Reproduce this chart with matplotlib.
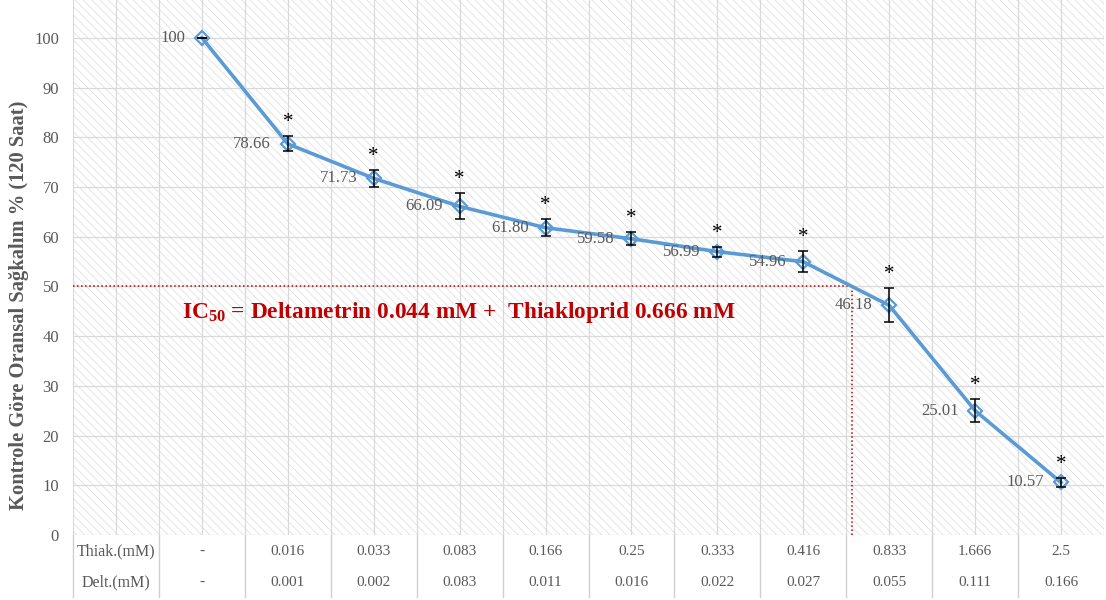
import matplotlib
matplotlib.use("Agg")
import matplotlib.pyplot as plt
import matplotlib.transforms as mtransforms
from matplotlib.patches import Rectangle
import numpy as np

plt.rcParams['font.family'] = ['Liberation Serif', 'DejaVu Serif']
plt.rcParams['hatch.linewidth'] = 0.5
plt.rcParams['mathtext.fontset'] = 'custom'
plt.rcParams['mathtext.rm'] = 'Liberation Serif'
plt.rcParams['mathtext.bf'] = 'Liberation Serif:bold'
plt.rcParams['mathtext.it'] = 'Liberation Serif:italic'

# ---------------- data ----------------
thiak = ['-', '0.016', '0.033', '0.083', '0.166', '0.25', '0.333', '0.416', '0.833', '1.666', '2.5']
delt = ['-', '0.001', '0.002', '0.083', '0.011', '0.016', '0.022', '0.027', '0.055', '0.111', '0.166']
survival = [100, 78.66, 71.73, 66.09, 61.80, 59.58, 56.99, 54.96, 46.18, 25.01, 10.57]
value_labels = ['100', '78.66', '71.73', '66.09', '61.80', '59.58', '56.99', '54.96', '46.18', '25.01', '10.57']
errors = [0, 1.5, 1.7, 2.6, 1.7, 1.35, 1.0, 2.1, 3.4, 2.25, 0.9]
significant = [False, True, True, True, True, True, True, True, True, True, True]
row_labels = ['Thiak.(mM)', 'Delt.(mM)']
ylabel = 'Kontrole Göre Oransal Sağkalım % (120 Saat)'
ic50_level = 50

gray = '#595959'
blue = '#5B9BD5'
red = '#C00000'

fig = plt.figure(figsize=(11.06, 6.0), dpi=100)
ax = fig.add_axes([73 / 1106, 65 / 600, (1104 - 73) / 1106, 535 / 600])

x = np.arange(1, len(survival) + 1)

# hatched background
bg = Rectangle((0, 0), 1, 1, transform=ax.transAxes, facecolor='white',
               edgecolor='#dcdcdc', hatch='\\\\\\\\', lw=0, zorder=0)
ax.add_patch(bg)
ax.patch.set_visible(False)

ax.set_xlim(-0.5, 11.5)
ax.set_ylim(0, 107.6)

# grid
ax.set_yticks(np.arange(0, 101, 10))
ax.set_xticks(np.arange(-0.5, 11.6, 0.5))
ax.grid(True, color='#d9d9d9', lw=0.9, zorder=1)
ax.set_axisbelow(True)
ax.tick_params(axis='x', length=0, labelbottom=False)
ax.tick_params(axis='y', length=0, labelsize=12, labelcolor=gray, pad=10)
for s in ax.spines.values():
    s.set_visible(False)

# IC50 reference lines
xs = np.array(x, dtype=float)
ys = np.array(survival, dtype=float)
i = np.where((ys[:-1] >= ic50_level) & (ys[1:] < ic50_level))[0][0]
x50 = xs[i] + (ys[i] - ic50_level) / (ys[i] - ys[i + 1]) * (xs[i + 1] - xs[i])
ax.plot([-0.5, x50], [ic50_level, ic50_level], color=red, ls=':', lw=1.1, zorder=2)
ax.plot([x50, x50], [0, ic50_level], color=red, ls=':', lw=1.1, zorder=2)

# main line
ax.plot(x, survival, color=blue, lw=2.6, marker='D', markersize=7.5,
        markerfacecolor='none', markeredgecolor=blue, markeredgewidth=1.6, zorder=3)
ax.errorbar(x, survival, yerr=errors, fmt='none', ecolor='black', elinewidth=1.1,
            capsize=3.5, capthick=1.1, zorder=4)

for xi, yi, lab, e, sg in zip(x, survival, value_labels, errors, significant):
    ax.annotate(lab, (xi, yi), xytext=(-12, 0), textcoords='offset points',
                ha='right', va='center', fontsize=12, color=gray, zorder=5)
    if sg:
        ax.annotate('*', (xi, yi + e), xytext=(0, 3), textcoords='offset points',
                    ha='center', va='bottom', fontsize=15, color='black', zorder=5)

ax.text(0.77, 44.7, r'IC$_{\mathbf{50}}$ = Deltametrin 0.044 mM +  Thiakloprid 0.666 mM',
        fontsize=16.8, fontweight='bold', color=red, va='center', ha='left', zorder=6)

# y label
ax.set_ylabel(ylabel, fontsize=14.8, fontweight='bold', color=gray)
ax.yaxis.set_label_coords(-0.043, 0.43)

# table below axis
trans = mtransforms.blended_transform_factory(ax.transData, ax.transAxes)
row_y = [-0.030, -0.088]
for ry, rl, vals in zip(row_y, row_labels, [thiak, delt]):
    ax.text(0, ry, rl, transform=trans, ha='center', va='center', fontsize=11.5,
            color=gray, clip_on=False)
    for xi, v in zip(x, vals):
        ax.text(xi, ry, v, transform=trans, ha='center', va='center', fontsize=11,
                color=gray, clip_on=False)
for bx in np.arange(-0.5, 11.0, 1.0):
    ax.plot([bx, bx], [0, -0.115], transform=trans, color='#d0d0d0', lw=1.0,
            clip_on=False, zorder=1)

fig.savefig('out.png', dpi=100)
